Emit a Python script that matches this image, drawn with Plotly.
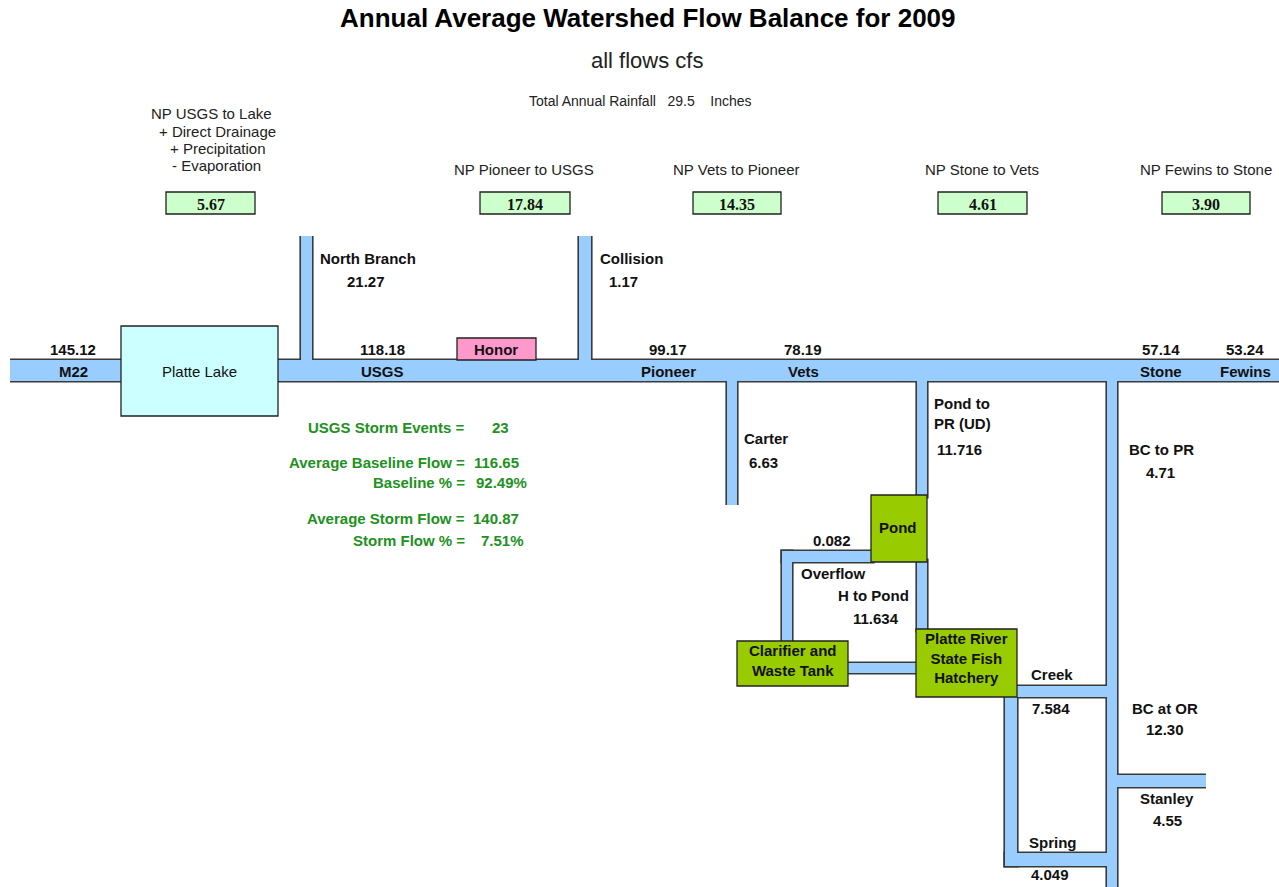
import plotly.graph_objects as go

# ---------------- data ----------------
title_text = "Annual Average Watershed Flow Balance for 2009"
subtitle_text = "all flows cfs"
rainfall_inches = 29.5

station_names = ["M22", "USGS", "Pioneer", "Vets", "Stone", "Fewins"]
station_flows = [145.12, 118.18, 99.17, 78.19, 57.14, 53.24]

np_labels = ["NP USGS to Lake", "NP Pioneer to USGS", "NP Vets to Pioneer",
             "NP Stone to Vets", "NP Fewins to Stone"]
np_lake_extra = ["+ Direct Drainage", "+ Precipitation", "- Evaporation"]
np_values = [5.67, 17.84, 14.35, 4.61, 3.90]

tributary_names = ["North Branch", "Collision", "Carter", "Pond to<br>PR (UD)",
                   "BC to PR", "BC at OR", "Stanley"]
tributary_flows = [21.27, 1.17, 6.63, 11.716, 4.71, 12.30, 4.55]
tributary_decimals = [2, 2, 2, 3, 2, 2, 2]

hatchery_names = ["Overflow", "H to Pond", "Creek", "Spring"]
hatchery_flows = [0.082, 11.634, 7.584, 4.049]

facility_names = ["Platte Lake", "Honor", "Pond", "Clarifier and<br>Waste Tank",
                  "Platte River<br>State Fish<br>Hatchery"]

stat_labels = ["USGS Storm Events =", "Average Baseline Flow =", "Baseline % =",
               "Average Storm Flow =", "Storm Flow % ="]
stat_values = [23, 116.65, 92.49, 140.87, 7.51]
stat_formats = ["{:d}", "{:.2f}", "{:.2f}%", "{:.2f}", "{:.2f}%"]

# ---------------- layout / geometry (pixels) ----------------
W, H = 1279, 887
BLUE = "#99CCFF"
EDGE = "#3a3a3a"
GREEN_BOX = "#99CC00"
STAT_GREEN = "#219121"
SANS = "Liberation Sans, Arial, sans-serif"
SERIF = "Liberation Serif, Times New Roman, serif"
LBL = 15  # bold label size

# channel bands: x0, y0, x1, y1, open sides
bands = [
    (10, 360, 1290, 381, "lr"),     # main river
    (301, 236, 312, 362, "t"),      # North Branch
    (579, 236, 591, 362, "t"),      # Collision
    (727, 379, 737, 505, "b"),      # Carter
    (917, 379, 927, 497, ""),       # Pond to PR (upper)
    (917, 560, 927, 631, ""),       # Pond to hatchery
    (782, 551, 873, 562, ""),       # overflow horizontal
    (782, 551, 792, 643, ""),       # overflow vertical
    (846, 663, 918, 673, ""),       # clarifier -> hatchery
    (1015, 686, 1109, 697, ""),     # creek
    (1005, 695, 1017, 866, ""),     # spring vertical
    (1005, 853, 1109, 866, ""),     # spring horizontal
    (1107, 379, 1117, 900, "b"),    # BC
    (1115, 775, 1206, 787, "r"),    # Stanley
]

facility_boxes = [
    (121, 326, 278, 416, "#CCFFFF"),
    (457, 338, 536, 360, "#FF99CC"),
    (871, 495, 927, 562, GREEN_BOX),
    (737, 641, 848, 686, GREEN_BOX),
    (916, 629, 1017, 697, GREEN_BOX),
]
facility_text_pos = [(199, 371, False, 15), (496, 349, True, LBL), (898, 527, True, LBL),
                     (793, 660, True, LBL), (966, 658, True, LBL)]

np_box_x = [(166, 255), (480, 570), (693, 781), (938, 1027), (1162, 1250)]
np_box_y = (192, 214)
np_label_pos = [(211, 113), (524, 169), (736, 169), (982, 169), (1206, 169)]
np_extra_pos = [(217, 131), (217, 148), (216, 165)]

station_x = [73, 382, 668, 803, 1161, 1245]

trib_name_pos = [(318, 258, "left"), (598, 258, "left"), (742, 438, "left"),
                 (932, 413, "left"), (1127, 449, "left"), (1165, 708, "center"),
                 (1167, 798, "center")]
trib_val_pos = [(366, 281), (623, 281), (763, 462), (959, 449), (1160, 472),
                (1165, 729), (1167, 820)]

hatch_name_pos = [(799, 573, "left"), (911, 595, "right"), (1029, 674, "left"),
                  (1027, 842, "left")]
hatch_val_pos = [(832, 540), (876, 618), (1051, 708), (1050, 874)]
hatch_decimals = [3, 3, 3, 3]

stat_y = [427, 462, 482, 518, 540]
stat_label_right = 467
stat_value_x = [500, 496, 501, 496, 502]

fig = go.Figure()
shapes = []
annotations = []

# outline pass
for x0, y0, x1, y1, op in bands:
    p = 1.6
    shapes.append(dict(type="rect", xref="x", yref="y",
                       x0=x0 - (0 if "l" in op else p), x1=x1 + (0 if "r" in op else p),
                       y0=y0 - (0 if "t" in op else p), y1=y1 + (0 if "b" in op else p),
                       fillcolor=EDGE, line=dict(width=0), layer="above"))
# fill pass
for x0, y0, x1, y1, op in bands:
    shapes.append(dict(type="rect", xref="x", yref="y", x0=x0, x1=x1, y0=y0, y1=y1,
                       fillcolor=BLUE, line=dict(width=0), layer="above"))
# facility boxes
for x0, y0, x1, y1, col in facility_boxes:
    shapes.append(dict(type="rect", xref="x", yref="y", x0=x0, x1=x1, y0=y0, y1=y1,
                       fillcolor=col, line=dict(color="#222222", width=1.3), layer="above"))
# NP value boxes
for (x0, x1) in np_box_x:
    shapes.append(dict(type="rect", xref="x", yref="y", x0=x0, x1=x1,
                       y0=np_box_y[0], y1=np_box_y[1], fillcolor="#CCFFCC",
                       line=dict(color="#222222", width=1.3), layer="above"))


def txt(x, y, text, size=LBL, bold=False, color="#111111", align="center", family=SANS):
    annotations.append(dict(x=x, y=y, xref="x", yref="y", text=f"<b>{text}</b>" if bold else text,
                            showarrow=False, xanchor=align, yanchor="middle", align=align,
                            font=dict(size=size, color=color, family=family)))


# titles
txt(648, 18, title_text, size=26, bold=True, color="#000000")
txt(647, 60, subtitle_text, size=22, color="#222222")
txt(640, 101, f"Total Annual Rainfall&nbsp;&nbsp;&nbsp;{rainfall_inches}&nbsp;&nbsp;&nbsp;&nbsp;Inches",
    size=14, color="#222222")

# NP labels and values
for (x, y), lab in zip(np_label_pos, np_labels):
    txt(x, y, lab, size=15, color="#222222")
for (x, y), lab in zip(np_extra_pos, np_lake_extra):
    txt(x, y, lab, size=15, color="#222222")
for (x0, x1), v in zip(np_box_x, np_values):
    txt((x0 + x1) / 2, (np_box_y[0] + np_box_y[1]) / 2 + 1, f"{v:.2f}", size=16, bold=True,
        family=SERIF)

# stations
for x, name, flow in zip(station_x, station_names, station_flows):
    txt(x, 349, f"{flow:.2f}", bold=True)
    txt(x, 371, name, bold=True)

# facilities
for (x, y, b, s), name in zip(facility_text_pos, facility_names):
    txt(x, y, name, size=s, bold=b, color="#111111")

# tributaries
for (x, y, al), name in zip(trib_name_pos, tributary_names):
    txt(x, y, name, bold=True, align=al)
for (x, y), v, d in zip(trib_val_pos, tributary_flows, tributary_decimals):
    txt(x, y, f"{v:.{d}f}", bold=True)

# hatchery flows
for (x, y, al), name in zip(hatch_name_pos, hatchery_names):
    txt(x, y, name, bold=True, align=al)
for (x, y), v, d in zip(hatch_val_pos, hatchery_flows, hatch_decimals):
    txt(x, y, f"{v:.{d}f}", bold=True)

# storm statistics
for y, lab, v, fmt, vx in zip(stat_y, stat_labels, stat_values, stat_formats, stat_value_x):
    txt(stat_label_right, y, lab, bold=True, color=STAT_GREEN, align="right")
    txt(vx, y, fmt.format(v), bold=True, color=STAT_GREEN)

fig.update_layout(
    width=W, height=H, margin=dict(l=0, r=0, t=0, b=0),
    paper_bgcolor="white", plot_bgcolor="white",
    xaxis=dict(range=[0, W], visible=False, fixedrange=True),
    yaxis=dict(range=[H, 0], visible=False, fixedrange=True),
    shapes=shapes, annotations=annotations, showlegend=False,
)
fig.write_html("out.html", config={"displayModeBar": False},
               post_script="document.body.style.margin='0px';document.body.style.overflow='hidden';")
